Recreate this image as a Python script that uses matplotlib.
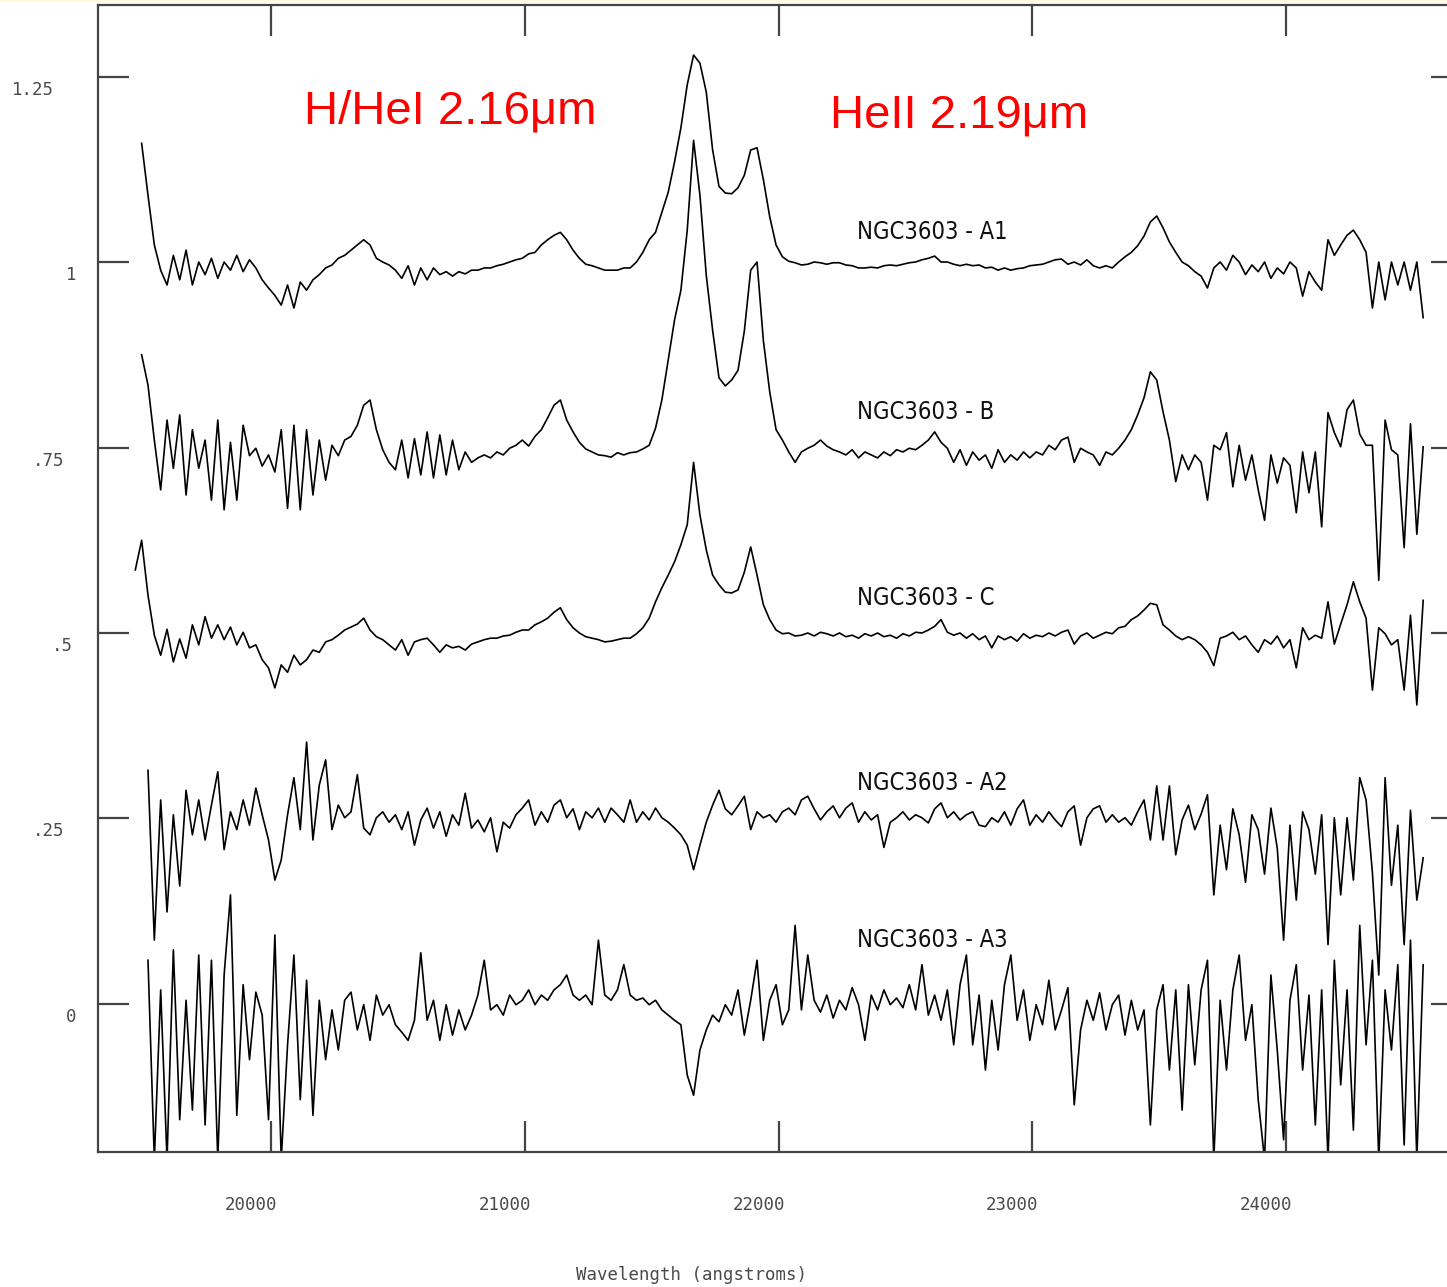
import numpy as np
import matplotlib
matplotlib.use('Agg')
import matplotlib.pyplot as plt
from matplotlib import transforms, font_manager
from matplotlib.patches import Rectangle

nan = np.nan

# wavelength grid (angstroms), 25 A steps
wavelength = np.arange(19465, 24541, 25)

# normalised flux of each star (already stacked at their plotting level)
flux_a1 = [
    nan, 1.160, 1.090, 1.023, 0.989, 0.969, 1.009, 0.976, 1.016, 0.969,
    1.000, 0.983, 1.005, 0.978, 1.000, 0.989, 1.009, 0.987, 1.003, 0.992,
    0.976, 0.965, 0.955, 0.942, 0.969, 0.938, 0.973, 0.962, 0.976, 0.983,
    0.992, 0.996, 1.005, 1.009, 1.016, 1.023, 1.030, 1.023, 1.005, 1.000,
    0.996, 0.989, 0.978, 0.995, 0.969, 0.992, 0.976, 0.992, 0.983, 0.987,
    0.981, 0.987, 0.984, 0.989, 0.989, 0.992, 0.992, 0.995, 0.997, 1.000,
    1.003, 1.005, 1.011, 1.013, 1.023, 1.030, 1.036, 1.040, 1.030, 1.016,
    1.005, 0.997, 0.995, 0.992, 0.989, 0.989, 0.989, 0.992, 0.992, 1.000,
    1.013, 1.030, 1.040, 1.067, 1.094, 1.135, 1.181, 1.239, 1.279, 1.268,
    1.229, 1.151, 1.102, 1.093, 1.092, 1.100, 1.117, 1.151, 1.154, 1.111,
    1.061, 1.023, 1.007, 1.001, 0.999, 0.996, 0.997, 1.000, 0.999, 0.997,
    0.999, 0.999, 0.996, 0.995, 0.992, 0.992, 0.993, 0.992, 0.995, 0.996,
    0.995, 0.997, 0.999, 1.000, 1.003, 1.005, 1.008, 1.000, 1.000, 0.997,
    0.995, 0.997, 0.995, 0.996, 0.992, 0.993, 0.989, 0.992, 0.989, 0.991,
    0.992, 0.995, 0.996, 0.997, 1.000, 1.003, 1.004, 0.997, 1.000, 0.996,
    1.003, 0.995, 0.992, 0.995, 0.992, 1.000, 1.007, 1.013, 1.022, 1.035,
    1.054, 1.062, 1.046, 1.027, 1.013, 1.000, 0.995, 0.987, 0.981, 0.965,
    0.992, 1.000, 0.989, 1.009, 1.000, 0.983, 0.996, 0.987, 1.000, 0.978,
    0.992, 0.984, 1.000, 0.992, 0.954, 0.987, 0.973, 0.962, 1.030, 1.009,
    1.023, 1.036, 1.043, 1.030, 1.013, 0.938, 1.000, 0.949, 1.000, 0.969,
    1.000, 0.962, 1.000, 0.925,
]

flux_b = [
    nan, 0.875, 0.834, 0.760, 0.693, 0.787, 0.722, 0.794, 0.686, 0.774,
    0.722, 0.760, 0.679, 0.787, 0.666, 0.757, 0.679, 0.780, 0.739, 0.749,
    0.725, 0.740, 0.717, 0.774, 0.668, 0.780, 0.666, 0.774, 0.686, 0.760,
    0.706, 0.753, 0.739, 0.760, 0.765, 0.780, 0.807, 0.814, 0.774, 0.747,
    0.730, 0.720, 0.760, 0.709, 0.762, 0.713, 0.771, 0.709, 0.767, 0.713,
    0.760, 0.720, 0.744, 0.730, 0.736, 0.740, 0.736, 0.744, 0.740, 0.749,
    0.753, 0.760, 0.752, 0.765, 0.774, 0.790, 0.807, 0.814, 0.787, 0.771,
    0.757, 0.748, 0.744, 0.740, 0.739, 0.737, 0.743, 0.740, 0.743, 0.744,
    0.748, 0.753, 0.776, 0.814, 0.868, 0.922, 0.962, 1.043, 1.164, 1.090,
    0.982, 0.908, 0.844, 0.833, 0.841, 0.854, 0.907, 0.989, 1.000, 0.894,
    0.825, 0.774, 0.760, 0.744, 0.730, 0.744, 0.749, 0.753, 0.760, 0.752,
    0.747, 0.744, 0.740, 0.747, 0.736, 0.744, 0.740, 0.736, 0.744, 0.739,
    0.747, 0.744, 0.749, 0.747, 0.753, 0.760, 0.771, 0.757, 0.749, 0.730,
    0.747, 0.726, 0.744, 0.733, 0.740, 0.722, 0.747, 0.730, 0.740, 0.733,
    0.744, 0.736, 0.744, 0.740, 0.753, 0.747, 0.760, 0.764, 0.730, 0.749,
    0.744, 0.740, 0.726, 0.744, 0.740, 0.749, 0.760, 0.774, 0.794, 0.817,
    0.852, 0.841, 0.798, 0.760, 0.704, 0.740, 0.720, 0.740, 0.730, 0.679,
    0.753, 0.747, 0.770, 0.697, 0.753, 0.706, 0.740, 0.693, 0.652, 0.740,
    0.702, 0.736, 0.726, 0.662, 0.744, 0.689, 0.744, 0.643, 0.797, 0.770,
    0.751, 0.801, 0.814, 0.768, 0.753, 0.753, 0.571, 0.787, 0.747, 0.740,
    0.615, 0.782, 0.633, 0.751,
]

flux_c = [
    0.585, 0.625, 0.551, 0.497, 0.470, 0.505, 0.461, 0.492, 0.466, 0.511,
    0.484, 0.522, 0.493, 0.511, 0.491, 0.508, 0.484, 0.501, 0.480, 0.484,
    0.464, 0.453, 0.426, 0.457, 0.447, 0.470, 0.457, 0.464, 0.477, 0.474,
    0.488, 0.491, 0.497, 0.504, 0.508, 0.512, 0.520, 0.504, 0.495, 0.491,
    0.484, 0.477, 0.491, 0.470, 0.488, 0.491, 0.493, 0.484, 0.474, 0.484,
    0.480, 0.482, 0.477, 0.485, 0.488, 0.491, 0.493, 0.493, 0.496, 0.497,
    0.501, 0.504, 0.504, 0.511, 0.515, 0.520, 0.528, 0.534, 0.518, 0.507,
    0.500, 0.495, 0.493, 0.491, 0.488, 0.489, 0.491, 0.493, 0.493, 0.499,
    0.507, 0.520, 0.542, 0.561, 0.578, 0.596, 0.619, 0.646, 0.730, 0.659,
    0.612, 0.578, 0.565, 0.555, 0.554, 0.558, 0.582, 0.616, 0.578, 0.538,
    0.518, 0.504, 0.499, 0.500, 0.496, 0.497, 0.500, 0.496, 0.501, 0.499,
    0.496, 0.500, 0.495, 0.497, 0.493, 0.499, 0.496, 0.500, 0.495, 0.497,
    0.493, 0.499, 0.496, 0.501, 0.500, 0.504, 0.509, 0.518, 0.501, 0.497,
    0.500, 0.493, 0.499, 0.491, 0.496, 0.480, 0.496, 0.491, 0.495, 0.489,
    0.499, 0.493, 0.497, 0.495, 0.500, 0.496, 0.501, 0.504, 0.485, 0.496,
    0.500, 0.493, 0.497, 0.501, 0.499, 0.507, 0.509, 0.518, 0.523, 0.531,
    0.540, 0.538, 0.511, 0.504, 0.496, 0.491, 0.495, 0.491, 0.484, 0.474,
    0.456, 0.493, 0.496, 0.501, 0.491, 0.496, 0.484, 0.474, 0.491, 0.485,
    0.496, 0.480, 0.491, 0.453, 0.507, 0.491, 0.497, 0.493, 0.542, 0.485,
    0.512, 0.538, 0.569, 0.542, 0.520, 0.423, 0.507, 0.499, 0.484, 0.491,
    0.423, 0.524, 0.403, 0.544,
]

flux_a2 = [
    nan, nan, 0.315, 0.086, 0.275, 0.124, 0.255, 0.159, 0.288, 0.228,
    0.275, 0.221, 0.268, 0.313, 0.208, 0.259, 0.235, 0.275, 0.241, 0.291,
    0.255, 0.221, 0.167, 0.194, 0.255, 0.305, 0.235, 0.353, 0.221, 0.295,
    0.329, 0.235, 0.268, 0.251, 0.259, 0.309, 0.237, 0.228, 0.251, 0.259,
    0.245, 0.255, 0.235, 0.259, 0.214, 0.248, 0.264, 0.237, 0.259, 0.226,
    0.255, 0.241, 0.284, 0.237, 0.248, 0.232, 0.251, 0.205, 0.245, 0.237,
    0.255, 0.264, 0.275, 0.241, 0.259, 0.245, 0.268, 0.275, 0.251, 0.263,
    0.235, 0.259, 0.251, 0.264, 0.245, 0.264, 0.255, 0.245, 0.275, 0.245,
    0.259, 0.248, 0.264, 0.251, 0.245, 0.237, 0.228, 0.214, 0.181, 0.214,
    0.245, 0.268, 0.288, 0.263, 0.255, 0.267, 0.280, 0.235, 0.259, 0.251,
    0.255, 0.245, 0.259, 0.264, 0.255, 0.275, 0.280, 0.263, 0.248, 0.259,
    0.267, 0.251, 0.264, 0.271, 0.245, 0.259, 0.248, 0.255, 0.211, 0.245,
    0.251, 0.259, 0.248, 0.255, 0.251, 0.244, 0.263, 0.271, 0.251, 0.259,
    0.248, 0.255, 0.259, 0.241, 0.239, 0.251, 0.245, 0.259, 0.241, 0.263,
    0.275, 0.241, 0.255, 0.245, 0.259, 0.248, 0.239, 0.259, 0.267, 0.214,
    0.251, 0.263, 0.267, 0.245, 0.255, 0.245, 0.251, 0.241, 0.259, 0.275,
    0.221, 0.294, 0.221, 0.294, 0.201, 0.248, 0.268, 0.235, 0.256, 0.282,
    0.147, 0.241, 0.181, 0.263, 0.228, 0.164, 0.255, 0.235, 0.175, 0.264,
    0.210, 0.086, 0.241, 0.140, 0.259, 0.235, 0.175, 0.255, 0.080, 0.251,
    0.147, 0.251, 0.167, 0.305, 0.275, 0.177, 0.039, 0.305, 0.160, 0.241,
    0.080, 0.261, 0.140, 0.197,
]

flux_a3 = [
    nan, nan, 0.059, -0.21, 0.019, -0.21, 0.073, -0.156, 0.005, -0.143,
    0.066, -0.163, 0.059, -0.21, 0.039, 0.147, -0.150, 0.026, -0.075, 0.016,
    -0.015, -0.156, 0.093, -0.21, -0.055, 0.066, -0.129, 0.032, -0.150, 0.005,
    -0.075, -0.008, -0.062, 0.005, 0.016, -0.035, -0.001, -0.049, 0.012, -0.015,
    -0.001, -0.028, -0.038, -0.049, -0.022, 0.069, -0.022, 0.005, -0.049, -0.001,
    -0.042, -0.008, -0.035, -0.015, 0.012, 0.059, -0.008, -0.001, -0.015, 0.012,
    -0.001, 0.005, 0.019, -0.001, 0.012, 0.005, 0.019, 0.026, 0.039, 0.012,
    0.005, 0.012, -0.001, 0.086, 0.012, 0.005, 0.019, 0.053, 0.012, 0.005,
    0.008, -0.001, 0.005, -0.008, -0.015, -0.022, -0.028, -0.096, -0.123, -0.062,
    -0.035, -0.015, -0.024, -0.001, -0.015, 0.019, -0.042, 0.005, 0.059, -0.049,
    0.005, 0.026, -0.028, -0.008, 0.106, -0.008, 0.066, 0.005, -0.011, 0.012,
    -0.019, 0.005, -0.008, 0.022, -0.001, -0.049, 0.012, -0.008, 0.019, -0.001,
    0.008, -0.005, 0.026, -0.008, 0.053, -0.015, 0.012, -0.022, 0.019, -0.055,
    0.026, 0.066, -0.055, 0.012, -0.089, 0.005, -0.062, 0.026, 0.066, -0.022,
    0.019, -0.049, -0.001, -0.028, 0.032, -0.035, -0.008, 0.022, -0.136, -0.035,
    0.005, -0.022, 0.015, -0.035, -0.001, 0.012, -0.042, 0.005, -0.035, -0.008,
    -0.163, -0.008, 0.026, -0.089, 0.019, -0.143, 0.026, -0.082, 0.019, 0.059,
    -0.21, 0.005, -0.089, 0.019, 0.066, -0.049, -0.001, -0.129, -0.21, 0.039,
    -0.062, -0.183, 0.005, 0.053, -0.089, 0.012, -0.163, 0.019, -0.21, 0.059,
    -0.109, 0.019, -0.170, 0.106, -0.055, 0.059, -0.21, 0.019, -0.062, 0.053,
    -0.190, 0.086, -0.21, 0.053,
]

spectra = [flux_a1, flux_b, flux_c, flux_a2, flux_a3]
names = ['NGC3603 - A1', 'NGC3603 - B', 'NGC3603 - C', 'NGC3603 - A2', 'NGC3603 - A3']
name_level = [1.031, 0.788, 0.538, 0.288, 0.077]

xticks = [20000, 21000, 22000, 23000, 24000]
yticks = [1.25, 1, 0.75, 0.5, 0.25, 0]
ytick_labels = ['1.25', '1', '.75', '.5', '.25', '0']
ytick_dx = [-86, -32, -65, -46, -65, -32]   # label left edge, pixels from spine

W, H = 1447, 1287
fig = plt.figure(figsize=(W / 100, H / 100), dpi=100)
fig.patch.set_facecolor('white')
# thin yellowish strip at the very top of the screenshot
fig.add_artist(Rectangle((0, 1 - 2 / H), 1, 2 / H, transform=fig.transFigure,
                         color='#fffbd8', lw=0))

ax = fig.add_axes([98 / W, 135 / H, 1364 / W, 1147 / H])

for s in spectra:
    ax.plot(wavelength[:len(s)], s, color='black', lw=1.2)

ax.set_xlim(19318, 24693)
ax.set_ylim(-0.1995, 1.3464)

spine_col = '#444444'
for sp in ax.spines.values():
    sp.set_color(spine_col)
    sp.set_linewidth(1.6)

ax.set_xticks(xticks)
ax.set_yticks(yticks)
ax.tick_params(direction='in', length=22, width=1.6, color=spine_col,
               top=True, right=True, labelbottom=False, labelleft=False)

mono = dict(family='DejaVu Sans Mono', fontsize=12.5, color='#4a4a4a')

# tick labels, placed the way the original plotting package does
xt = transforms.offset_copy(ax.get_xaxis_transform(), fig=fig, x=-20, y=-53, units='dots')
for t in xticks:
    ax.text(t, 0, str(t), transform=xt, ha='center', va='center', **mono)

for v, lab, dx in zip(yticks, ytick_labels, ytick_dx):
    yt = transforms.offset_copy(ax.get_yaxis_transform(), fig=fig, x=dx, y=-13, units='dots')
    ax.text(0, v, lab, transform=yt, ha='left', va='center', **mono)

fig.text(691 / W, 1 - 1275 / H, 'Wavelength (angstroms)', ha='center', va='center', **mono)

# star labels: narrow sans if there is one, else plain Liberation Sans a bit smaller
installed = {f.name for f in font_manager.fontManager.ttflist}
condensed = {f.name for f in font_manager.fontManager.ttflist if 'condensed' in str(f.stretch)}
if 'Liberation Sans Narrow' in installed:
    lab_font = dict(family='Liberation Sans Narrow', fontsize=19.5)
elif 'DejaVu Sans' in condensed:
    lab_font = dict(family='DejaVu Sans', fontstretch='condensed', fontsize=17)
else:
    lab_font = dict(family='Liberation Sans', fontsize=16.8)

for lab, lev in zip(names, name_level):
    ax.text(22310, lev, lab, ha='left', va='baseline', color='#111111', **lab_font)

# line identifications
red = dict(fontsize=34, color='#ff0000', family=['Liberation Sans', 'DejaVu Sans'],
           ha='left', va='baseline')
fig.text(304 / W, 1 - 124 / H, 'H/HeI 2.16\u03bcm', **red)
fig.text(830 / W, 1 - 127 / H, 'HeII 2.19\u03bcm', **red)

fig.savefig('out.png', dpi=100)
